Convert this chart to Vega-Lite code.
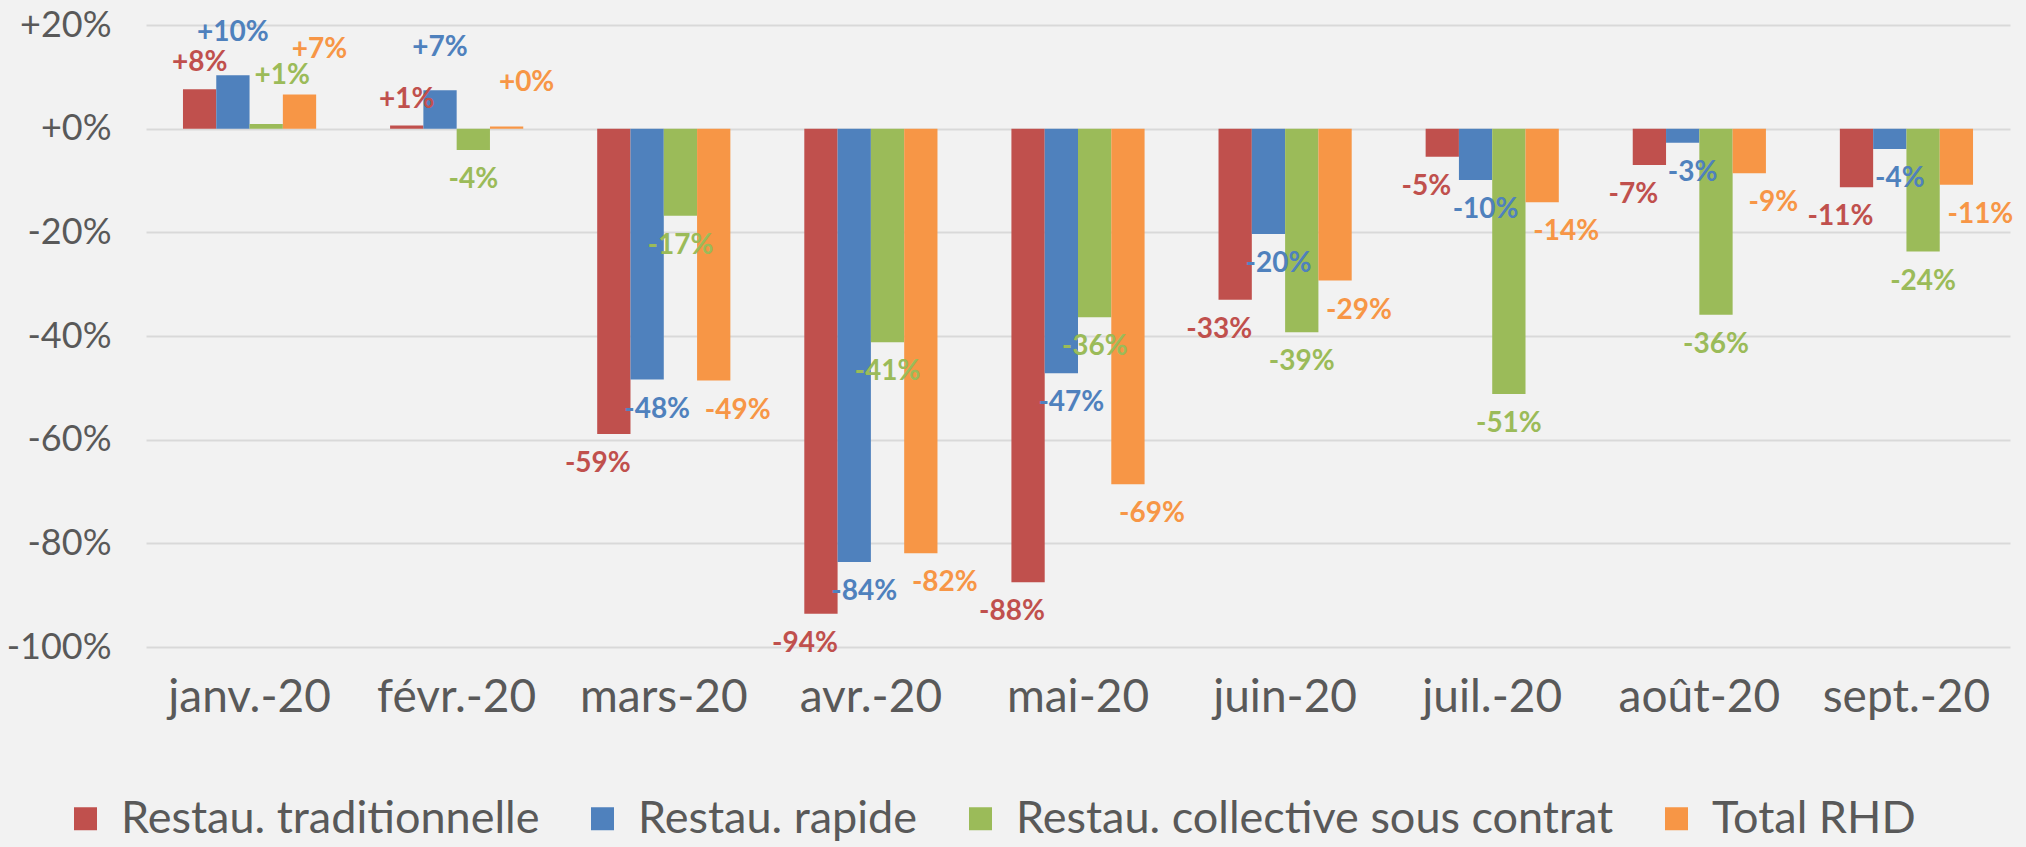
{
  "$schema": "https://vega.github.io/schema/vega-lite/v6.json",
  "autosize": {"type": "none"},
  "padding": {"left": 146, "top": 25, "right": 16, "bottom": 200},
  "width": 1864,
  "height": 622,
  "background": "#F2F2F2",
  "config": {
    "view": {"stroke": null},
    "font": "Lato",
    "text": {"fontSize": 28, "fontWeight": "bold"},
    "locale": {"number": {"decimal": ".", "thousands": ",", "grouping": [3], "currency": ["", ""], "minus": "-"}}
  },
  "data": {
    "values": [
      {"mois": "janv.-20", "serie": "Restau. traditionnelle", "valeur": 0.076},
      {"mois": "janv.-20", "serie": "Restau. rapide", "valeur": 0.103},
      {"mois": "janv.-20", "serie": "Restau. collective sous contrat", "valeur": 0.009},
      {"mois": "janv.-20", "serie": "Total RHD", "valeur": 0.066},
      {"mois": "févr.-20", "serie": "Restau. traditionnelle", "valeur": 0.006},
      {"mois": "févr.-20", "serie": "Restau. rapide", "valeur": 0.074},
      {"mois": "févr.-20", "serie": "Restau. collective sous contrat", "valeur": -0.041},
      {"mois": "févr.-20", "serie": "Total RHD", "valeur": 0.004},
      {"mois": "mars-20", "serie": "Restau. traditionnelle", "valeur": -0.589},
      {"mois": "mars-20", "serie": "Restau. rapide", "valeur": -0.484},
      {"mois": "mars-20", "serie": "Restau. collective sous contrat", "valeur": -0.168},
      {"mois": "mars-20", "serie": "Total RHD", "valeur": -0.486},
      {"mois": "avr.-20", "serie": "Restau. traditionnelle", "valeur": -0.936},
      {"mois": "avr.-20", "serie": "Restau. rapide", "valeur": -0.836},
      {"mois": "avr.-20", "serie": "Restau. collective sous contrat", "valeur": -0.412},
      {"mois": "avr.-20", "serie": "Total RHD", "valeur": -0.819},
      {"mois": "mai-20", "serie": "Restau. traditionnelle", "valeur": -0.875},
      {"mois": "mai-20", "serie": "Restau. rapide", "valeur": -0.472},
      {"mois": "mai-20", "serie": "Restau. collective sous contrat", "valeur": -0.364},
      {"mois": "mai-20", "serie": "Total RHD", "valeur": -0.686},
      {"mois": "juin-20", "serie": "Restau. traditionnelle", "valeur": -0.330},
      {"mois": "juin-20", "serie": "Restau. rapide", "valeur": -0.203},
      {"mois": "juin-20", "serie": "Restau. collective sous contrat", "valeur": -0.393},
      {"mois": "juin-20", "serie": "Total RHD", "valeur": -0.293},
      {"mois": "juil.-20", "serie": "Restau. traditionnelle", "valeur": -0.054},
      {"mois": "juil.-20", "serie": "Restau. rapide", "valeur": -0.099},
      {"mois": "juil.-20", "serie": "Restau. collective sous contrat", "valeur": -0.512},
      {"mois": "juil.-20", "serie": "Total RHD", "valeur": -0.142},
      {"mois": "août-20", "serie": "Restau. traditionnelle", "valeur": -0.070},
      {"mois": "août-20", "serie": "Restau. rapide", "valeur": -0.027},
      {"mois": "août-20", "serie": "Restau. collective sous contrat", "valeur": -0.359},
      {"mois": "août-20", "serie": "Total RHD", "valeur": -0.086},
      {"mois": "sept.-20", "serie": "Restau. traditionnelle", "valeur": -0.113},
      {"mois": "sept.-20", "serie": "Restau. rapide", "valeur": -0.039},
      {"mois": "sept.-20", "serie": "Restau. collective sous contrat", "valeur": -0.237},
      {"mois": "sept.-20", "serie": "Total RHD", "valeur": -0.108}
    ]
  },
  "encoding": {
    "x": {
      "field": "mois", "type": "nominal",
      "sort": ["janv.-20", "févr.-20", "mars-20", "avr.-20", "mai-20", "juin-20", "juil.-20", "août-20", "sept.-20"],
      "scale": {"paddingInner": 0.357, "paddingOuter": 0.1785},
      "axis": {"title": null, "labelAngle": 0, "labelFontSize": 46, "labelColor": "#595959", "labelPadding": 28, "ticks": false, "domain": false, "labelLimit": 400}
    },
    "xOffset": {
      "field": "serie", "type": "nominal",
      "sort": ["Restau. traditionnelle", "Restau. rapide", "Restau. collective sous contrat", "Total RHD"],
      "scale": {"paddingInner": 0, "paddingOuter": 0}
    },
    "y": {
      "field": "valeur", "type": "quantitative",
      "scale": {"domain": [-1, 0.2], "nice": false},
      "axis": {"title": null, "values": [-1, -0.8, -0.6, -0.4, -0.2, 0, 0.2], "format": "+.0%", "labelFontSize": 36, "labelColor": "#595959", "labelPadding": 35, "ticks": false, "domain": false, "gridColor": "#D9D9D9", "gridWidth": 2}
    },
    "color": {
      "field": "serie", "type": "nominal",
      "scale": {
        "domain": ["Restau. traditionnelle", "Restau. rapide", "Restau. collective sous contrat", "Total RHD"],
        "range": ["#C0504D", "#4F81BD", "#9BBB59", "#F79646"]
      },
      "legend": {
        "orient": "none", "legendX": -83, "legendY": 771, "direction": "horizontal",
        "title": null, "symbolType": "square", "symbolSize": 529, "symbolStrokeWidth": 0, "symbolOpacity": 1,
        "labelFontSize": 45, "labelColor": "#595959", "labelOffset": 13, "columnPadding": 40, "labelLimit": 1000
      }
    },
    "text": {"field": "valeur", "type": "quantitative", "format": "+.0%"}
  },
  "layer": [
    {"mark": {"type": "bar"}, "encoding": {"text": null}},
    {
      "transform": [{"filter": "datum.valeur >= 0 && datum.serie == 'Restau. traditionnelle'"}],
      "mark": {"type": "text", "baseline": "alphabetic", "dy": -18}
    },
    {
      "transform": [{"filter": "datum.valeur >= 0 && datum.serie == 'Restau. rapide'"}],
      "mark": {"type": "text", "baseline": "alphabetic", "dy": -34}
    },
    {
      "transform": [{"filter": "datum.valeur >= 0 && datum.serie == 'Restau. collective sous contrat'"}],
      "mark": {"type": "text", "baseline": "alphabetic", "dy": -40, "dx": 16}
    },
    {
      "transform": [{"filter": "datum.valeur >= 0 && datum.serie == 'Total RHD'"}],
      "mark": {"type": "text", "baseline": "alphabetic", "dy": -36, "dx": 20}
    },
    {
      "transform": [{"filter": "datum.valeur < 0 && datum.serie == 'Restau. traditionnelle'"}],
      "mark": {"type": "text", "baseline": "top", "dy": 16, "dx": -16}
    },
    {
      "transform": [{"filter": "datum.valeur < 0 && datum.serie == 'Restau. rapide'"}],
      "mark": {"type": "text", "baseline": "top", "dy": 16, "dx": 10}
    },
    {
      "transform": [{"filter": "datum.valeur < 0 && datum.serie == 'Restau. collective sous contrat'"}],
      "mark": {"type": "text", "baseline": "top", "dy": 16}
    },
    {
      "transform": [{"filter": "datum.valeur < 0 && datum.serie == 'Total RHD'"}],
      "mark": {"type": "text", "baseline": "top", "dy": 16, "dx": 24}
    }
  ]
}
